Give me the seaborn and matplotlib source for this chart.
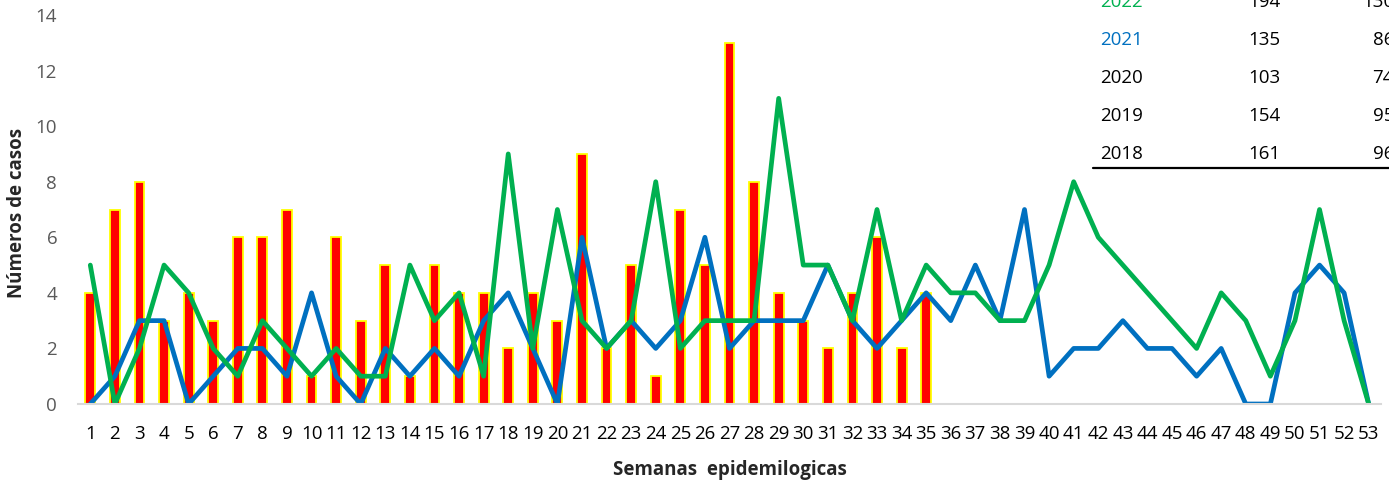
import numpy as np
import pandas as pd
import seaborn as sns
import matplotlib
matplotlib.use("Agg")
from matplotlib import pyplot as plt
from matplotlib.lines import Line2D

sns.set_style("white")
plt.rcParams['font.family'] = ['Open Sans', 'DejaVu Sans']

# weekly cases, current year (bars) up to week 35
weeks_bars = list(range(1, 36))
cases_2023 = [4, 7, 8, 3, 4, 3, 6, 6, 7, 1, 6, 3, 5, 1, 5, 4, 4, 2, 4, 3,
              9, 2, 5, 1, 7, 5, 13, 8, 4, 3, 2, 4, 6, 2, 4]

# previous years (lines), weeks 1-53
weeks_all = list(range(1, 54))
cases_2022 = [5, 0, 2, 5, 4, 2, 1, 3, 2, 1, 2, 1, 1, 5, 3, 4, 1, 9, 2, 7,
              3, 2, 3, 8, 2, 3, 3, 3, 11, 5, 5, 3, 7, 3, 5, 4, 4, 3, 3, 5,
              8, 6, 5, 4, 3, 2, 4, 3, 1, 3, 7, 3, 0]
cases_2021 = [0, 1, 3, 3, 0, 1, 2, 2, 1, 4, 1, 0, 2, 1, 2, 1, 3, 4, 2, 0,
              6, 2, 3, 2, 3, 6, 2, 3, 3, 3, 5, 3, 2, 3, 4, 3, 5, 3, 7, 1,
              2, 2, 3, 2, 2, 1, 2, 0, 0, 4, 5, 4, 0]

# summary table in the corner
table_years = ["2022", "2021", "2020", "2019", "2018"]
table_total = ["194", "135", "103", "154", "161"]
table_to_date = ["130", "86", "74", "95", "96"]

GREEN = "#00B050"
BLUE = "#0070C0"
year_colors = {"2022": GREEN, "2021": BLUE}

fig = plt.figure(figsize=(13.89, 4.84), dpi=100)
ax = fig.add_axes([78 / 1389, 1 - 404 / 484, 1303 / 1389, 389 / 484])

bars = pd.DataFrame({"week": weeks_bars, "cases": cases_2023})
sns.barplot(data=bars, x="week", y="cases", native_scale=True, width=0.4,
            color="#FF0000", saturation=1, edgecolor="#FFFF00", linewidth=1.3,
            errorbar=None, ax=ax)

sns.lineplot(x=weeks_all, y=cases_2021, color=BLUE, linewidth=3.4, ax=ax)
sns.lineplot(x=weeks_all, y=cases_2022, color=GREEN, linewidth=3.4, ax=ax)

ax.set_xlim(0.5, 53.5)
ax.set_ylim(0, 14)
ax.set_xticks(weeks_all)
ax.set_xticklabels([str(w) for w in weeks_all])
ax.set_yticks(range(0, 15, 2))
ax.tick_params(axis="x", length=0, pad=15, labelsize=13.5, labelcolor="black")
ax.tick_params(axis="y", length=0, pad=15, labelsize=13.5, labelcolor="#595959")

sns.despine(ax=ax, left=True, top=True, right=True)
ax.spines["bottom"].set_color("#D9D9D9")
ax.spines["bottom"].set_linewidth(1.5)
ax.grid(False)

ax.set_xlabel("Semanas  epidemilogicas", fontsize=13.5, fontweight="bold", va="center")
ax.xaxis.set_label_coords(0.5, -0.17)
ax.set_ylabel("Números de casos", fontsize=13.5, fontweight="bold", va="center")
ax.yaxis.set_label_coords(-0.047, 0.49)

# table text in top right corner
for i, yr in enumerate(table_years):
    yc = 1 - (2.0 + 38 * i) / 484
    fig.text(1100 / 1389, yc, yr, color=year_colors.get(yr, "black"),
             fontsize=13.5, va="center", ha="left")
    fig.text(1248 / 1389, yc, table_total[i], color="black",
             fontsize=13.5, va="center", ha="left")
    fig.text(1394 / 1389, yc, table_to_date[i], color="black",
             fontsize=13.5, va="center", ha="right")

fig.add_artist(Line2D([1093 / 1389, 1.0], [1 - 168 / 484, 1 - 168 / 484],
                      color="black", linewidth=1.6, transform=fig.transFigure))

fig.savefig("out.png", dpi=100)
